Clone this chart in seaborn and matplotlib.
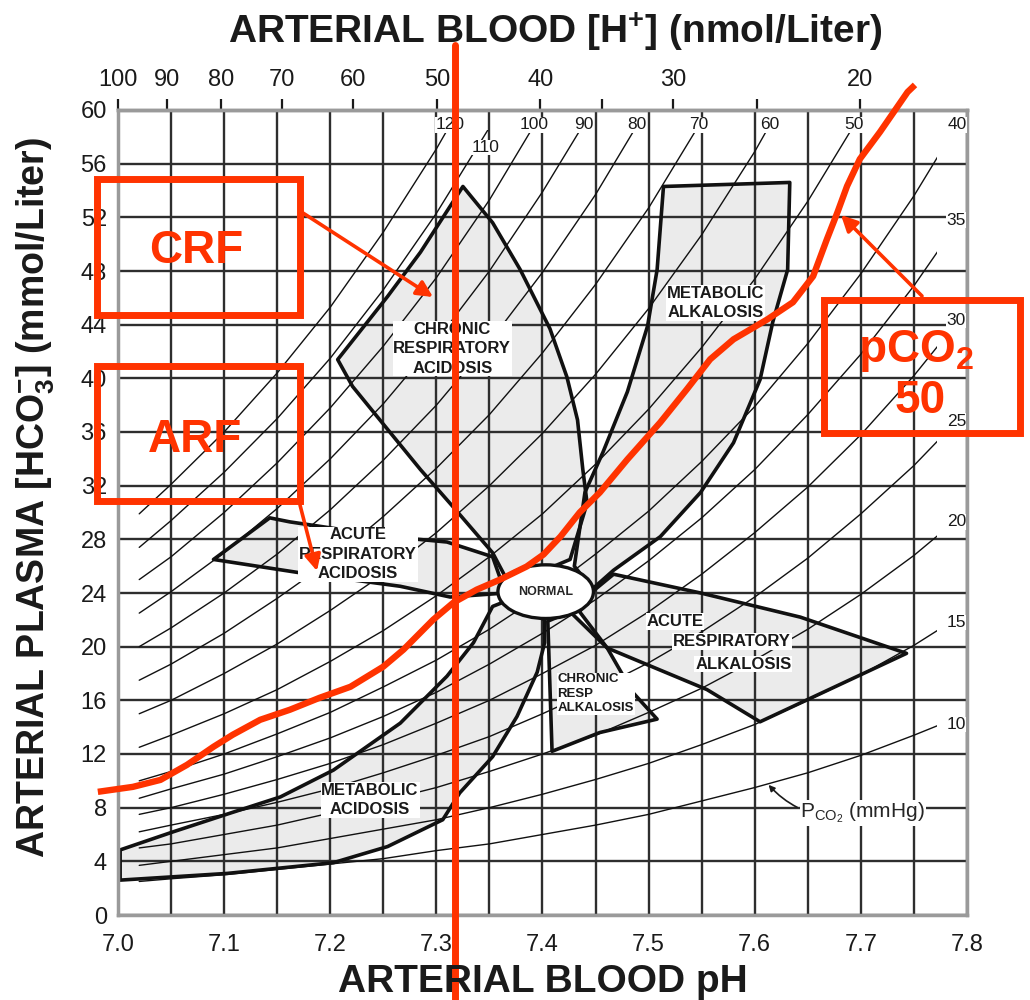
import numpy as np
import pandas as pd
import matplotlib
matplotlib.use("Agg")
import matplotlib.pyplot as plt
import seaborn as sns
from matplotlib.patches import Ellipse, Rectangle

RED = "#ff3300"

# ---- pCO2 isopleths: HCO3 (mmol/L) read along the pH columns ----
iso_ph = [7.02, 7.05, 7.10, 7.15, 7.20, 7.25, 7.30, 7.35, 7.40,
          7.45, 7.50, 7.55, 7.60, 7.65, 7.70, 7.75, 7.80]
iso_pco2 = [120, 110, 100, 90, 80, 70, 60, 50, 40, 35, 30, 25, 20, 15, 10]
iso_hco3 = [
    [29.9, 32.1, 36.0, 40.4, 45.3, 50.9, 57.1, 64.0],
    [27.4, 29.4, 33.0, 37.0, 41.5, 46.6, 52.3, 58.7, 65.8],
    [25.0, 26.7, 30.0, 33.7, 37.8, 42.4, 47.5, 53.3, 59.9, 67.2],
    [22.5, 24.1, 27.0, 30.3, 34.0, 38.1, 42.8, 48.0, 53.9, 60.4],
    [20.0, 21.4, 24.0, 26.9, 30.2, 33.9, 38.0, 42.7, 47.9, 53.7, 60.3],
    [17.5, 18.7, 21.0, 23.6, 26.4, 29.7, 33.3, 37.3, 41.9, 47.0, 52.7, 59.2, 66.4],
    [15.0, 16.0, 18.0, 20.2, 22.7, 25.4, 28.5, 32.0, 35.9, 40.3, 45.2, 50.7, 56.9, 63.9],
    [12.5, 13.4, 15.0, 16.8, 18.9, 21.2, 23.8, 26.7, 29.9, 33.6, 37.7, 42.3, 47.4, 53.2, 59.7, 67.0],
    [10.0, 10.7, 12.0, 13.5, 15.1, 17.0, 19.0, 21.3, 23.9, 26.9, 30.1, 33.8, 37.9, 42.6, 47.8, 53.6, 60.1],
    [8.7, 9.4, 10.5, 11.8, 13.2, 14.8, 16.6, 18.7, 21.0, 23.5, 26.4, 29.6, 33.2, 37.3, 41.8, 46.9, 52.6],
    [7.5, 8.0, 9.0, 10.1, 11.3, 12.7, 14.3, 16.0, 18.0, 20.1, 22.6, 25.4, 28.5, 31.9, 35.8, 40.2, 45.1],
    [6.2, 6.7, 7.5, 8.4, 9.4, 10.6, 11.9, 13.3, 15.0, 16.8, 18.8, 21.1, 23.7, 26.6, 29.9, 33.5, 37.6],
    [5.0, 5.3, 6.0, 6.7, 7.6, 8.5, 9.5, 10.7, 12.0, 13.4, 15.1, 16.9, 19.0, 21.3, 23.9, 26.8, 30.1],
    [3.7, 4.0, 4.5, 5.0, 5.7, 6.4, 7.1, 8.0, 9.0, 10.1, 11.3, 12.7, 14.2, 16.0, 17.9, 20.1, 22.6],
    [2.5, 2.7, 3.0, 3.4, 3.8, 4.2, 4.8, 5.3, 6.0, 6.7, 7.5, 8.5, 9.5, 10.6, 11.9, 13.4, 15.0],
]

# ---- shaded acid-base bands (pH, HCO3) ----
mac_ph = [7.002, 7.052, 7.106, 7.153, 7.203, 7.266, 7.310, 7.335, 7.353, 7.369, 7.402,
          7.402, 7.395, 7.376, 7.353, 7.322, 7.306, 7.254, 7.203, 7.103, 7.002]
mac_hco3 = [4.85, 6.2, 7.6, 8.8, 10.8, 14.3, 17.8, 20.3, 23.0, 23.5, 22.0,
            20.3, 18.1, 14.8, 11.8, 9.1, 7.1, 5.1, 3.9, 3.1, 2.6]

cra_ph = [7.325, 7.353, 7.379, 7.407, 7.423, 7.433, 7.438, 7.442, 7.426, 7.369,
          7.353, 7.316, 7.285, 7.254, 7.221, 7.207, 7.254, 7.285]
cra_hco3 = [54.3, 51.6, 48.1, 43.7, 40.1, 36.9, 33.2, 30.7, 26.5, 24.6,
            27.0, 30.4, 33.2, 36.2, 39.4, 41.4, 46.1, 49.4]

ma_ph = [7.514, 7.633, 7.631, 7.617, 7.605, 7.580, 7.549, 7.511, 7.467, 7.447,
         7.430, 7.440, 7.457, 7.480, 7.499, 7.508]
ma_hco3 = [54.3, 54.6, 48.1, 44.2, 39.9, 35.2, 31.5, 28.2, 25.7, 24.3,
           26.0, 31.5, 34.5, 39.0, 43.9, 48.1]

ara_ph = [7.090, 7.143, 7.162, 7.256, 7.310, 7.353, 7.365, 7.313, 7.266, 7.172]
ara_hco3 = [26.5, 29.6, 29.3, 28.2, 27.8, 26.7, 24.0, 23.7, 24.5, 25.5]

aralk_ph = [7.467, 7.549, 7.643, 7.743, 7.605, 7.555, 7.461, 7.435, 7.447]
aralk_hco3 = [25.4, 24.0, 22.2, 19.5, 14.4, 16.8, 19.9, 22.6, 24.1]

cralk_ph = [7.405, 7.409, 7.454, 7.508, 7.485, 7.461, 7.426]
cralk_hco3 = [21.9, 12.2, 13.6, 14.6, 16.6, 19.9, 22.6]

normal_ph, normal_hco3 = 7.403, 24.1
normal_ph_span, normal_hco3_span = 0.09, 4.0

# ---- top axis [H+] (nmol/L) ----
h_major = [100, 90, 80, 70, 60, 50, 40, 30, 20]
h_minor = [35, 25]

# ---- red overlay: hand-drawn pCO2 50 curve and pH 7.32 marker ----
red_ph = [6.981, 7.014, 7.040, 7.065, 7.090, 7.108, 7.134, 7.162, 7.190, 7.219,
          7.250, 7.269, 7.297, 7.316, 7.338, 7.360, 7.385, 7.401, 7.417, 7.435,
          7.454, 7.480, 7.511, 7.536, 7.558, 7.580, 7.612, 7.636, 7.655, 7.668,
          7.678, 7.687, 7.699, 7.718, 7.744, 7.751]
red_hco3 = [9.18, 9.55, 10.07, 11.19, 12.54, 13.43, 14.55, 15.30, 16.19, 17.01,
            18.51, 19.78, 22.01, 23.28, 24.25, 25.00, 25.97, 26.87, 28.21, 30.00,
            31.49, 33.96, 36.72, 39.18, 41.42, 42.91, 44.40, 45.67, 47.61, 50.37,
            52.39, 54.33, 56.34, 58.36, 61.34, 61.87]
red_line_ph = 7.318

sns.set_style("white")
plt.rcParams["font.family"] = ["Liberation Sans", "DejaVu Sans"]
plt.rcParams["mathtext.fontset"] = "custom"
plt.rcParams["mathtext.rm"] = "Liberation Sans"
plt.rcParams["mathtext.bf"] = "Liberation Sans:bold"
plt.rcParams["mathtext.it"] = "Liberation Sans:italic"

W, H = 1030, 1000


def fp(x, y):
    # figure pixel (from top-left) -> figure fraction
    return x / W, 1 - y / H


fig = plt.figure(figsize=(W / 100, H / 100), dpi=100)
ax = fig.add_axes([118 / W, 85 / H, (967 - 118) / W, (915 - 110) / H])

# isopleths
rows = []
for p, vals in zip(iso_pco2, iso_hco3):
    for ph, v in zip(iso_ph, vals):
        rows.append((ph, v, p))
iso_df = pd.DataFrame(rows, columns=["pH", "HCO3", "pCO2"])
n0 = len(ax.lines)
sns.lineplot(data=iso_df, x="pH", y="HCO3", units="pCO2", estimator=None,
             color="#111111", lw=1.0, legend=False, ax=ax)
clip_rect = Rectangle((7.0, 0), 0.772, 58.5, transform=ax.transData)
for ln in ax.lines[n0:]:
    ln.set_clip_path(clip_rect)
    ln.set_zorder(1)

for p, vals in zip(iso_pco2, iso_hco3):
    phs = iso_ph[:len(vals)]
    if p >= 40:
        yl = 57.2 if p == 110 else 58.9
        xl = float(np.interp(yl, vals, phs)) + (0.008 if p == 110 else 0)
    else:
        xl, yl = 7.79, vals[-1] - 0.8
    ax.text(xl, yl, str(p), fontsize=12.5, ha="center", va="center",
            color="#1a1a1a", zorder=3,
            bbox=dict(fc="white", ec="none", pad=0.3))

# regions
for rph, rhc in [(mac_ph, mac_hco3), (cra_ph, cra_hco3), (ma_ph, ma_hco3),
                 (ara_ph, ara_hco3), (aralk_ph, aralk_hco3), (cralk_ph, cralk_hco3)]:
    ax.fill(rph, rhc, facecolor="#ebebeb", edgecolor="none", zorder=0.3)
    ax.fill(rph, rhc, facecolor="none", edgecolor="#111111", lw=2.6,
            joinstyle="round", zorder=2)

ax.add_patch(Ellipse((normal_ph, normal_hco3), normal_ph_span, normal_hco3_span,
                     fc="white", ec="#111111", lw=2.4, zorder=3))
ax.text(normal_ph, normal_hco3, "NORMAL", fontsize=9, fontweight="bold",
        ha="center", va="center", zorder=4)

lab = dict(fontsize=12, fontweight="bold", color="#1a1a1a", zorder=3,
           linespacing=1.35, bbox=dict(fc="white", ec="none", pad=0.6))
ax.text(7.315, 42.2, "CHRONIC\nRESPIRATORY\nACIDOSIS", ha="center", va="center", **lab)
ax.text(7.563, 45.6, "METABOLIC\nALKALOSIS", ha="center", va="center", **lab)
ax.text(7.226, 26.9, "ACUTE\nRESPIRATORY\nACIDOSIS", ha="center", va="center", **lab)
ax.text(7.2375, 8.6, "METABOLIC\nACIDOSIS", ha="center", va="center", **lab)
ax.text(7.498, 21.9, "ACUTE", ha="left", va="center", **lab)
ax.text(7.523, 20.4, "RESPIRATORY", ha="left", va="center", **lab)
ax.text(7.544, 18.7, "ALKALOSIS", ha="left", va="center", **lab)
small = dict(lab, fontsize=9.5, linespacing=1.25)
ax.text(7.414, 16.5, "CHRONIC\nRESP\nALKALOSIS", ha="left", va="center", **small)

ax.annotate(r"P$_{\mathrm{CO_2}}$ (mmHg)", xy=(7.613, 9.7), xytext=(7.643, 7.6),
            fontsize=15, ha="left", va="center", zorder=4,
            bbox=dict(fc="white", ec="none", pad=0.5),
            arrowprops=dict(arrowstyle="-|>", color="#1a1a1a", lw=1.2,
                            connectionstyle="arc3,rad=-0.3", mutation_scale=9,
                            shrinkA=2, shrinkB=0))

ax.set_xlim(7.0, 7.8)
ax.set_ylim(0, 60)
ax.set_xticks(np.arange(7.0, 7.81, 0.1))
ax.set_xticks(np.arange(7.0, 7.81, 0.05), minor=True)
ax.set_xticklabels([f"{v:.1f}" for v in np.arange(7.0, 7.81, 0.1)])
ax.set_yticks(np.arange(0, 61, 4))
ax.set_axisbelow(True)
ax.grid(which="both", color="#2e2e2e", lw=1.7)
ax.tick_params(which="both", length=0, labelsize=17, colors="#1a1a1a")
ax.tick_params(axis="x", pad=14)
ax.tick_params(axis="y", pad=8)
for s in ax.spines.values():
    s.set_color("#9a9a9a")
    s.set_linewidth(2.5)

# top [H+] axis
sec = ax.secondary_xaxis("top", functions=(lambda p: 10 ** (9 - p),
                                           lambda h: 9 - np.log10(np.clip(h, 1e-9, None))))
sec.set_xticks(h_major)
sec.set_xticklabels([str(h) for h in h_major])
sec.set_xticks(h_minor, minor=True)
sec.tick_params(which="both", direction="out", length=8, width=1.6,
                colors="#1a1a1a", labelsize=17, pad=6)
sec.spines["top"].set_color("#9a9a9a")
sec.spines["top"].set_linewidth(2.5)

# axis titles
fig.text(*fp(543, 992), "ARTERIAL BLOOD pH", fontsize=28, fontweight="bold",
         ha="center", va="baseline", color="#1a1a1a")
fig.text(*fp(555, 43), r"ARTERIAL BLOOD [H$^{\mathbf{+}}$] (nmol/Liter)", fontsize=28,
         fontweight="bold", ha="center", va="baseline", color="#1a1a1a")
fig.text(*fp(36, 497), r"ARTERIAL PLASMA [HCO$_{\mathbf{3}}^{\mathbf{-}}$] (mmol/Liter)",
         fontsize=27, fontweight="bold", rotation=90, ha="center", va="center",
         color="#1a1a1a")

# ---- red overlay ----
n0 = len(ax.lines)
sns.lineplot(x=red_ph, y=red_hco3, sort=False, estimator=None, color=RED, lw=4.6, ax=ax)
for ln in ax.lines[n0:]:
    ln.set_clip_on(False)
    ln.set_zorder(6)
    ln.set_solid_capstyle("butt")
    ln.set_solid_joinstyle("round")
ax.axvline(red_line_ph, ymin=-0.106, ymax=1.081, color=RED, lw=5, clip_on=False, zorder=6)
ax.set_xlabel("")
ax.set_ylabel("")

boxes = [(97, 179, 300, 315), (97, 366, 300, 501), (824, 300, 1020, 433)]
for x0, y0, x1, y1 in boxes:
    fig.add_artist(Rectangle(fp(x0, y1), (x1 - x0) / W, (y1 - y0) / H,
                             transform=fig.transFigure, fill=False, ec=RED, lw=5,
                             zorder=7))

arrows = [((303, 213), (433, 297)), ((300, 505), (317, 571)), ((922, 296), (841, 215))]
for (xs, ys), (xe, ye) in arrows:
    ax.annotate("", xy=fp(xe, ye), xycoords="figure fraction",
                xytext=fp(xs, ys), textcoords="figure fraction",
                annotation_clip=False, zorder=7,
                arrowprops=dict(arrowstyle="-|>", color=RED, lw=2.6,
                                mutation_scale=24, shrinkA=0, shrinkB=0))

red_txt = dict(color=RED, fontsize=33, fontweight="bold", ha="center", va="baseline")
fig.text(*fp(196, 263), "CRF", **red_txt)
fig.text(*fp(195, 452), "ARF", **red_txt)
fig.text(*fp(916, 362), r"pCO$_{\mathbf{2}}$", **red_txt)
fig.text(*fp(920, 413), "50", **red_txt)

fig.savefig("out.png", dpi=100)
